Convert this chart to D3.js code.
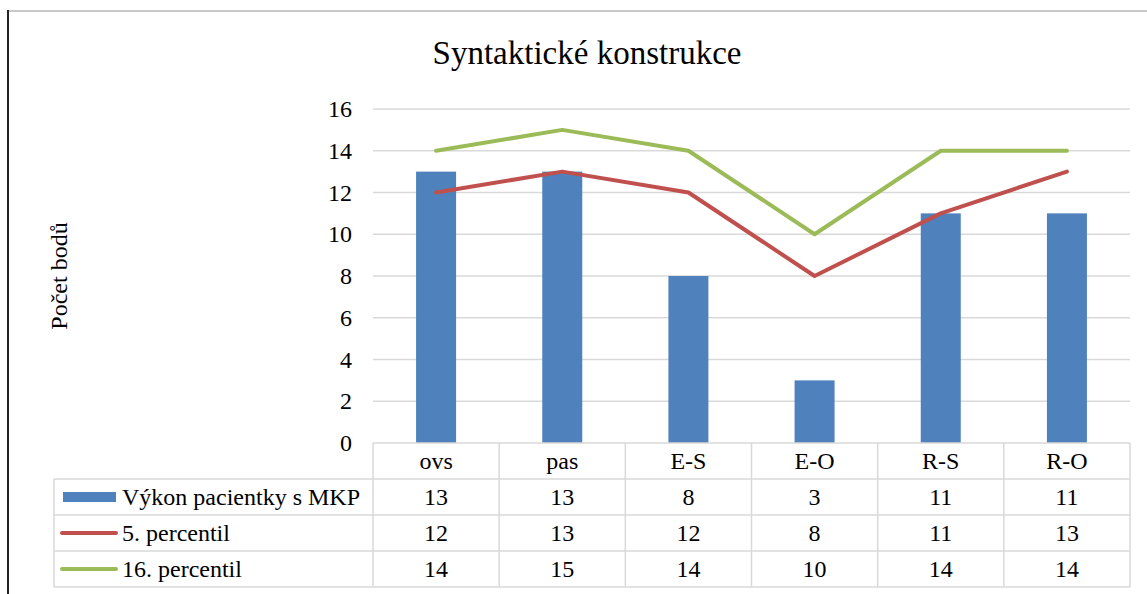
<!DOCTYPE html>
<html><head><meta charset="utf-8">
<script src="https://cdn.jsdelivr.net/npm/d3@7"></script>
</head><body style="margin:0">
<svg id="c" width="1147" height="594"></svg>
<script>
const categories = ["ovs","pas","E-S","E-O","R-S","R-O"];
const patient = [13,13,8,3,11,11];
const p5 = [12,13,12,8,11,13];
const p16 = [14,15,14,10,14,14];
const yTicks = [0,2,4,6,8,10,12,14,16];
const seriesNames = ["Výkon pacientky s MKP","5. percentil","16. percentil"];
const colors = ["#4f81bd","#c0504d","#9bbb59"];

(function(){
const FF = '"Times New Roman", "Liberation Serif", Tinos, FreeSerif, serif';
const svg = d3.select("#c");
const pL = 373, pR = 1130, pT = 109, pB = 443;
const x = d3.scaleBand().domain(categories).range([pL,pR]);
const y = d3.scaleLinear().domain([0,16]).range([pB,pT]);
function T(sel,size){ return sel.style("font-family",FF).style("font-size",size+"px").attr("fill","#000"); }

svg.append("line").attr("x1",8).attr("x2",1147).attr("y1",11).attr("y2",11).attr("stroke","#c8c8c8").attr("stroke-width",2);
svg.append("line").attr("x1",8).attr("x2",8).attr("y1",10).attr("y2",594).attr("stroke","#222").attr("stroke-width",2);

T(svg.append("text").attr("x",587).attr("y",64).attr("text-anchor","middle"),33).text("Syntaktické konstrukce");

svg.append("g").selectAll("line").data(yTicks.filter(d=>d>0)).join("line")
  .attr("x1",pL).attr("x2",pR).attr("y1",d=>y(d)).attr("y2",d=>y(d))
  .attr("stroke","#d9d9d9").attr("stroke-width",1.5);

const ya = svg.append("g").attr("transform",`translate(${pL},0)`).call(d3.axisLeft(y).tickValues(yTicks).tickSize(0).tickPadding(21));
ya.attr("font-family",null).attr("font-size",null);
ya.select(".domain").remove();
T(ya.selectAll("text"),24);

T(svg.append("text").attr("transform","translate(67,276) rotate(-90)").attr("text-anchor","middle"),24).text("Počet bodů");

const bw = 40;
svg.append("g").selectAll("rect").data(patient).join("rect")
  .attr("x",(d,i)=>x(categories[i])+x.bandwidth()/2-bw/2).attr("width",bw)
  .attr("y",d=>y(d)).attr("height",d=>y(0)-y(d)).attr("fill",colors[0]);

const line = d3.line().x((d,i)=>x(categories[i])+x.bandwidth()/2).y(d=>y(d));
[p5,p16].forEach((s,k)=>{
  svg.append("path").datum(s).attr("d",line).attr("fill","none").attr("stroke",colors[k+1]).attr("stroke-width",4).attr("stroke-linecap","round").attr("stroke-linejoin","round");
});

const rowH = 36, tTop = pB, legLeft = 54;
const rows = [patient,p5,p16];
const tg = svg.append("g");
const bc = "#d9d9d9";
tg.append("line").attr("x1",pL).attr("x2",pR).attr("y1",tTop).attr("y2",tTop).attr("stroke",bc).attr("stroke-width",1.5);
for(let r=1;r<=4;r++){
  tg.append("line").attr("x1",legLeft).attr("x2",pR).attr("y1",tTop+r*rowH).attr("y2",tTop+r*rowH).attr("stroke",bc).attr("stroke-width",1.5);
}
categories.forEach(c=>{
  tg.append("line").attr("x1",x(c)).attr("x2",x(c)).attr("y1",tTop).attr("y2",tTop+4*rowH).attr("stroke",bc).attr("stroke-width",1.5);
});
tg.append("line").attr("x1",pR).attr("x2",pR).attr("y1",tTop).attr("y2",tTop+4*rowH).attr("stroke",bc).attr("stroke-width",1.5);
tg.append("line").attr("x1",legLeft).attr("x2",legLeft).attr("y1",tTop+rowH).attr("y2",tTop+4*rowH).attr("stroke",bc).attr("stroke-width",1.5);
T(tg.selectAll("text.h").data(categories).join("text").attr("class","h")
  .attr("x",c=>x(c)+x.bandwidth()/2).attr("y",tTop+rowH/2+8).attr("text-anchor","middle"),24).text(c=>c);
rows.forEach((s,r)=>{
  T(tg.selectAll("text.v"+r).data(s).join("text").attr("class","v"+r)
    .attr("x",(d,i)=>x(categories[i])+x.bandwidth()/2).attr("y",tTop+(r+1)*rowH+rowH/2+8)
    .attr("text-anchor","middle"),24).text(d=>d);
  const cy = tTop+(r+1)*rowH+rowH/2;
  if(r===0){
    tg.append("rect").attr("x",63).attr("y",cy-5).attr("width",53).attr("height",10).attr("fill",colors[0]);
  } else {
    tg.append("line").attr("x1",62).attr("x2",116).attr("y1",cy).attr("y2",cy).attr("stroke",colors[r]).attr("stroke-width",4).attr("stroke-linecap","round");
  }
  T(tg.append("text").attr("x",122).attr("y",cy+8),24).text(seriesNames[r]);
});
})();
</script>
</body></html>
